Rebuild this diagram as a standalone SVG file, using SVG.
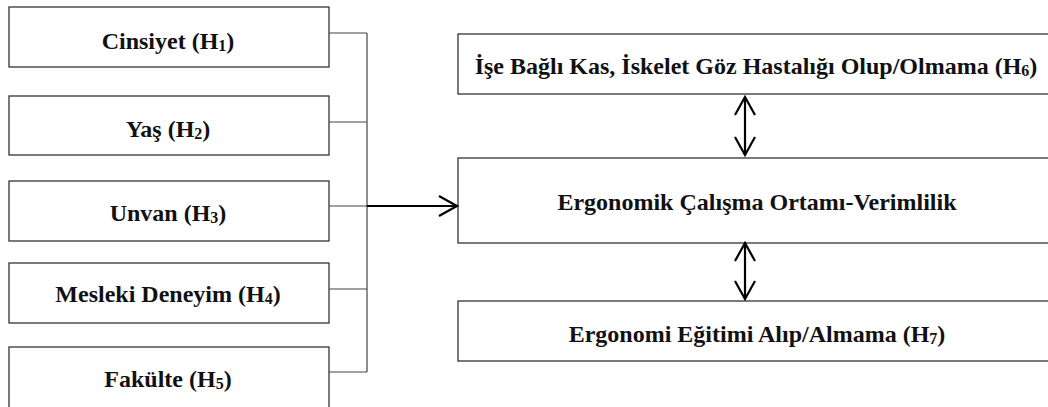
<svg xmlns="http://www.w3.org/2000/svg" width="1048" height="407" viewBox="0 0 1048 407">
<style>
.box{fill:#fff;stroke:#333;stroke-width:1.3}
.t{font-family:'Liberation Serif','Times New Roman',Times,serif;font-weight:700;font-size:24px;fill:#111;text-anchor:middle}
.sub{font-size:16px}
.ln{fill:none;stroke:#444;stroke-width:1.2}
.ar{fill:none;stroke:#000;stroke-width:2.2}
</style>
<defs>
<marker id="v" markerUnits="userSpaceOnUse" markerWidth="24" markerHeight="24" refX="19" refY="11" orient="auto-start-reverse" viewBox="0 0 24 24">
<path d="M1,1 L19,11 L1,21" fill="none" stroke="#000" stroke-width="2.2"/>
</marker>
</defs>
<rect width="1048" height="407" fill="#fff"/>
<g id="n1"><rect class="box" x="9" y="7" width="320" height="60"/><text class="t" x="168" y="49">Cinsiyet (H<tspan class="sub" dy="1.5">1</tspan><tspan dy="-1.5">)</tspan></text></g>
<g id="n2"><rect class="box" x="9" y="96" width="320" height="59"/><text class="t" x="168" y="137">Yaş (H<tspan class="sub" dy="1.5">2</tspan><tspan dy="-1.5">)</tspan></text></g>
<g id="n3"><rect class="box" x="9" y="181" width="320" height="60"/><text class="t" x="168" y="221">Unvan (H<tspan class="sub" dy="1.5">3</tspan><tspan dy="-1.5">)</tspan></text></g>
<g id="n4"><rect class="box" x="9" y="263" width="320" height="60"/><text class="t" x="168" y="302">Mesleki Deneyim (H<tspan class="sub" dy="1.5">4</tspan><tspan dy="-1.5">)</tspan></text></g>
<g id="n5"><rect class="box" x="9" y="347" width="320" height="70"/><text class="t" x="168" y="387">Fakülte (H<tspan class="sub" dy="1.5">5</tspan><tspan dy="-1.5">)</tspan></text></g>
<g id="n6"><rect class="box" x="458" y="34" width="600" height="60"/><text class="t" x="756" y="74">İşe Bağlı Kas, İskelet Göz Hastalığı Olup/Olmama (H<tspan class="sub" dy="1.5">6</tspan><tspan dy="-1.5">)</tspan></text></g>
<g id="n7"><rect class="box" x="458" y="158" width="600" height="85"/><text class="t" x="757" y="210">Ergonomik Çalışma Ortamı-Verimlilik</text></g>
<g id="n8"><rect class="box" x="458" y="301" width="600" height="60"/><text class="t" x="757" y="342">Ergonomi Eğitimi Alıp/Almama (H<tspan class="sub" dy="1.5">7</tspan><tspan dy="-1.5">)</tspan></text></g>
<g id="connectors">
<path class="ln" d="M329,33 H367 M329,122 H367 M329,206 H367 M329,289 H367 M329,372 H367 M367,33 V372"/>
<line class="ar" x1="367" y1="206" x2="457" y2="206" marker-end="url(#v)"/>
<line class="ar" x1="745" y1="97" x2="745" y2="155" marker-start="url(#v)" marker-end="url(#v)"/>
<line class="ar" x1="745" y1="243" x2="745" y2="299" marker-start="url(#v)" marker-end="url(#v)"/>
</g>
</svg>
